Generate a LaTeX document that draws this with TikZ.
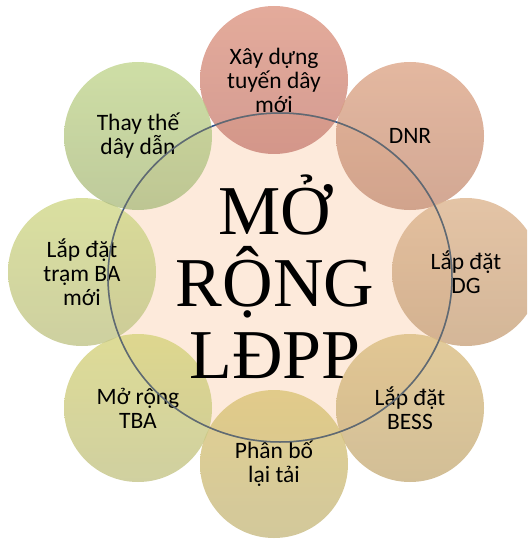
\documentclass[tikz,border=0pt]{standalone}
\usepackage{fontspec}
\setmainfont{Carlito}
\newfontfamily\titlefont{Liberation Serif}
\definecolor{hubfill}{RGB}{253,234,219}
\definecolor{hubline}{RGB}{40,80,140}
\definecolor{hubshade}{RGB}{95,105,115}
\definecolor{aT}{RGB}{221,150,130}\definecolor{aB}{RGB}{201,130,118}
\definecolor{bT}{RGB}{221,166,136}\definecolor{bB}{RGB}{199,146,121}
\definecolor{cT}{RGB}{221,181,143}\definecolor{cB}{RGB}{201,164,126}
\definecolor{dT}{RGB}{219,190,130}\definecolor{dB}{RGB}{199,174,124}
\definecolor{eT}{RGB}{219,196,118}\definecolor{eB}{RGB}{199,186,130}
\definecolor{fT}{RGB}{214,211,124}\definecolor{fB}{RGB}{196,196,136}
\definecolor{gT}{RGB}{209,216,136}\definecolor{gB}{RGB}{193,196,136}
\definecolor{hT}{RGB}{194,214,143}\definecolor{hB}{RGB}{174,189,130}
\begin{document}
\begin{tikzpicture}[x=1pt,y=-1pt,
  petal/.style={circle, minimum size=148pt, inner sep=0pt,
    fill opacity=0.8, text opacity=1, align=center,
    font=\fontsize{23.5}{24}\selectfont},
  ring/.style={line width=1.5pt}]
\useasboundingbox (0,0) rectangle (527,540);
\clip (0,0) rectangle (527,540);

% central disc with its outline
\fill[hubfill] (280,277.5) ellipse [x radius=172pt, y radius=164.5pt];
\draw[ring, hubline] (280,277.5) ellipse [x radius=172pt, y radius=164.5pt];

% eight surrounding circles
\node[petal, top color=aT, bottom color=aB] (p1) at (274,80)  {Xây dựng\\tuyến dây\\mới};
\node[petal, top color=bT, bottom color=bB] (p2) at (410,136) {DNR};
\node[petal, top color=cT, bottom color=cB] (p3) at (466,272) {Lắp đặt\\DG};
\node[petal, top color=dT, bottom color=dB] (p4) at (410,408) {Lắp đặt\\BESS};
\node[petal, top color=eT, bottom color=eB] (p5) at (274,464) {Phân bố\\lại tải};
\node[petal, top color=fT, bottom color=fB] (p6) at (138,408) {Mở rộng\\TBA};
\node[petal, top color=gT, bottom color=gB] (p7) at (82,272)  {Lắp đặt\\trạm BA\\mới};
\node[petal, top color=hT, bottom color=hB] (p8) at (138,136) {Thay thế\\dây dẫn};

% outline seen through the circles
\begin{scope}
  \clip (274,80) circle (74pt) (410,136) circle (74pt) (466,272) circle (74pt)
        (410,408) circle (74pt) (274,464) circle (74pt) (138,408) circle (74pt)
        (82,272) circle (74pt) (138,136) circle (74pt);
  \draw[ring, hubshade] (280,277.5) ellipse [x radius=172pt, y radius=164.5pt];
\end{scope}

% title
\node[align=center, font=\titlefont\fontsize{70}{72}\selectfont] (hub) at (275,277) {MỞ\\RỘNG\\LĐPP};
\end{tikzpicture}
\end{document}
